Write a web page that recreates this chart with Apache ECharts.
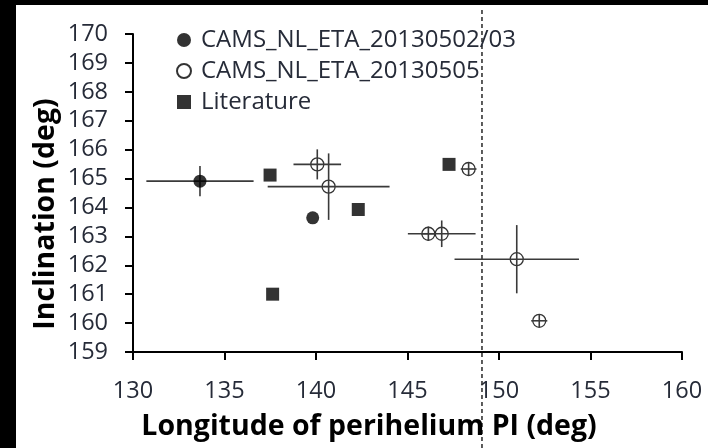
<!DOCTYPE html>
<html><head><meta charset="utf-8">
<script src="https://cdn.jsdelivr.net/npm/echarts@6/dist/echarts.min.js"></script>
<style>
html,body{margin:0;padding:0;background:#000;}
#bg{position:absolute;left:16px;top:5px;width:692px;height:443px;background:#fff;}
#chart{position:absolute;left:0;top:0;width:708px;height:448px;}
</style></head>
<body><div id="bg"></div><div id="chart"></div>
<script>
// ---- data ----
const seriesNames = ['CAMS_NL_ETA_20130502/03', 'CAMS_NL_ETA_20130505', 'Literature'];
// CAMS 20130502/03 (filled circles)
const s1X = [133.66, 139.82];
const s1Y = [164.91, 163.64];
const s1XErr = [2.93, 0];
const s1YErr = [0.52, 0];
// CAMS 20130505 (open circles)
const s2X = [140.07, 140.69, 146.14, 146.87, 150.97, 152.20, 148.34];
const s2Y = [165.49, 164.72, 163.09, 163.09, 162.21, 160.08, 165.33];
const s2XErr = [1.30, 3.33, 0.40, 1.85, 3.40, 0.44, 0.43];
const s2YErr = [0.52, 1.15, 0.25, 0.46, 1.18, 0.22, 0.22];
// Literature (squares)
const s3X = [137.49, 142.31, 147.27, 137.63];
const s3Y = [165.12, 163.93, 165.49, 161.00];
// dashed reference line
const dashX = 149.07;
// axes
const xMin = 130, xMax = 160, xStep = 5;
const yMin = 159, yMax = 170, yStep = 1;
const xTitle = 'Longitude of perihelium PI (deg)';
const yTitle = 'Inclination (deg)';

const zip = (a, b) => a.map((v, i) => [v, b[i]]);
const zip4 = (a, b, c, d) => a.map((v, i) => [v, b[i], c[i], d[i]]);

const tickColor = '#262b38';
const errColor = '#3a3a3a';

function renderErr(params, api) {
  const x = api.value(0), y = api.value(1), xe = api.value(2), ye = api.value(3);
  const children = [];
  const style = { stroke: errColor, lineWidth: 1.6 };
  if (xe > 0) {
    const a = api.coord([x - xe, y]), b = api.coord([x + xe, y]);
    children.push({ type: 'line', shape: { x1: a[0], y1: a[1], x2: b[0], y2: b[1] }, style });
  }
  if (ye > 0) {
    const a = api.coord([x, y - ye]), b = api.coord([x, y + ye]);
    children.push({ type: 'line', shape: { x1: a[0], y1: a[1], x2: b[0], y2: b[1] }, style });
  }
  return { type: 'group', children };
}

const chart = echarts.init(document.getElementById('chart'));
chart.setOption({
  backgroundColor: 'transparent',
  animation: false,
  textStyle: { fontFamily: 'Open Sans' },
  grid: [
    { left: 133, right: 26, top: 34, bottom: 96 },
    { left: 133, right: 26, top: 7, bottom: 0 }
  ],
  xAxis: [
    {
      gridIndex: 0, type: 'value', min: xMin, max: xMax, interval: xStep,
      axisLine: { show: true, lineStyle: { color: '#000', width: 2 } },
      axisTick: { show: true, inside: false, length: 8, lineStyle: { color: '#000', width: 2 } },
      axisLabel: { color: tickColor, fontSize: 23.5, margin: 27, fontFamily: 'Open Sans' },
      splitLine: { show: false }
    },
    { gridIndex: 1, type: 'value', min: xMin, max: xMax, show: false }
  ],
  yAxis: [
    {
      gridIndex: 0, type: 'value', min: yMin, max: yMax, interval: yStep,
      axisLine: { show: true, lineStyle: { color: '#000', width: 2 } },
      axisTick: { show: true, inside: false, length: 8, lineStyle: { color: '#000', width: 2 } },
      axisLabel: { color: tickColor, fontSize: 23.5, margin: 25, fontFamily: 'Open Sans' },
      splitLine: { show: false }
    },
    { gridIndex: 1, type: 'value', min: 0, max: 1, show: false }
  ],
  legend: {
    orient: 'vertical', left: 176, top: 26, padding: 0,
    itemWidth: 14, itemHeight: 14, itemGap: 3,
    textStyle: { color: tickColor, fontSize: 24, lineHeight: 28, fontFamily: 'Open Sans', padding: [0, 0, 0, 5] },
    data: [
      { name: seriesNames[0], icon: 'circle' },
      { name: seriesNames[1], icon: 'circle' },
      { name: seriesNames[2], icon: 'rect' }
    ]
  },
  graphic: [
    { type: 'text', x: 369, y: 427, z: 10,
      style: { text: xTitle, fontFamily: 'Open Sans', fontWeight: 'bold', fontSize: 28.5, fill: '#000',
               align: 'center', verticalAlign: 'middle' } },
    { type: 'text', rotation: Math.PI / 2, x: 46, y: 214, z: 10,
      style: { text: yTitle, fontFamily: 'Open Sans', fontWeight: 'bold', fontSize: 28.5, fill: '#000',
               align: 'center', verticalAlign: 'middle' } }
  ],
  series: [
    { name: 'dash', type: 'line', xAxisIndex: 1, yAxisIndex: 1, data: [[dashX, 0], [dashX, 1]],
      symbol: 'none', silent: true, z: 1,
      lineStyle: { color: '#333', width: 1.6, type: [4, 3] } },
    { name: 'err1', type: 'custom', xAxisIndex: 0, yAxisIndex: 0, renderItem: renderErr,
      data: zip4(s1X, s1Y, s1XErr, s1YErr), encode: { x: 0, y: 1 }, z: 2 },
    { name: 'err2', type: 'custom', xAxisIndex: 0, yAxisIndex: 0, renderItem: renderErr,
      data: zip4(s2X, s2Y, s2XErr, s2YErr), encode: { x: 0, y: 1 }, z: 4 },
    { name: seriesNames[0], type: 'scatter', data: zip(s1X, s1Y), symbol: 'circle', symbolSize: 13,
      itemStyle: { color: '#000' }, z: 3 },
    { name: seriesNames[1], type: 'scatter', data: zip(s2X, s2Y), symbol: 'circle', symbolSize: 13,
      itemStyle: { color: 'rgba(255,255,255,0)', borderColor: '#000', borderWidth: 1.3 }, z: 3 },
    { name: seriesNames[2], type: 'scatter', data: zip(s3X, s3Y), symbol: 'rect', symbolSize: 13,
      itemStyle: { color: '#000' }, z: 3 }
  ]
});
</script></body></html>
